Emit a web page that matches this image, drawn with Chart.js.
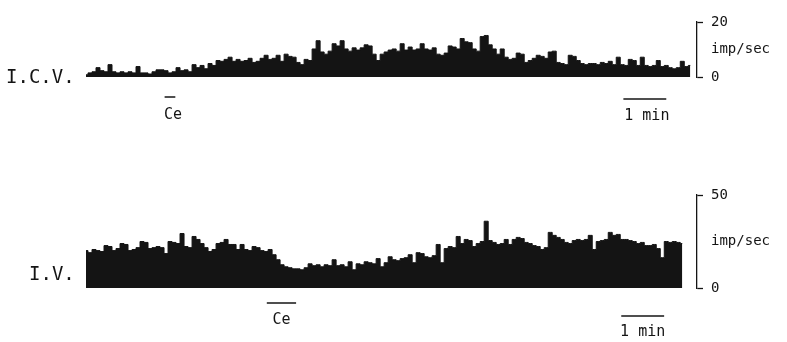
<!DOCTYPE html>
<html>
<head>
<meta charset="utf-8">
<script src="https://cdn.jsdelivr.net/npm/chart.js@4.4.0/dist/chart.umd.min.js"></script>
<style>
  html, body { margin: 0; padding: 0; background: #fff; }
  body { width: 787px; height: 342px; position: relative; overflow: hidden; }
  .panel { position: absolute; left: 0; width: 787px; }
  #top-wrap { top: 0; height: 145px; }
  #bot-wrap { top: 145px; height: 197px; }
</style>
</head>
<body>
<div class="panel" id="top-wrap"><canvas id="icv" width="787" height="145"></canvas></div>
<div class="panel" id="bot-wrap"><canvas id="iv" width="787" height="197"></canvas></div>
<script>
// RATEMETER DATA (imp/sec), one sample every SEC_PER_SAMPLE seconds
const SEC_PER_SAMPLE = 5.6;
const X_MAX = 855; // seconds shown across the plot width

// I.C.V. (intracerebroventricular) trace
const icvRate = [
  0.8, 1.5, 1.9, 3.4, 2.3, 1.9, 4.5, 1.9, 1.5, 1.9, 1.5, 1.9, 1.5, 3.8, 1.5, 1.5,
  1.1, 1.9, 2.6, 2.6, 2.3, 1.5, 1.9, 3.4, 2.3, 2.6, 1.9, 4.5, 3.4, 4.2, 3.0, 4.9,
  4.2, 6.0, 5.7, 6.4, 7.2, 5.7, 6.4, 5.7, 6.0, 6.8, 5.3, 5.7, 6.8, 7.9, 6.4, 6.8,
  7.9, 5.7, 8.3, 7.5, 7.2, 5.3, 4.5, 6.4, 6.0, 10.2, 13.2, 9.1, 8.3, 9.4, 12.1, 11.3,
  13.2, 10.2, 9.4, 10.6, 9.8, 10.6, 11.7, 11.3, 8.3, 6.0, 8.3, 9.1, 9.8, 10.2, 9.4, 12.1,
  9.8, 10.9, 9.8, 10.2, 12.1, 10.2, 9.8, 10.6, 8.3, 7.9, 8.7, 11.3, 10.9, 10.2, 14.0, 12.8,
  12.5, 10.2, 9.4, 14.7, 15.1, 11.7, 10.2, 8.3, 10.2, 7.2, 6.4, 6.8, 8.7, 8.3, 5.3, 6.0,
  6.8, 7.9, 7.5, 6.8, 9.1, 9.4, 5.3, 4.9, 4.5, 7.9, 7.5, 6.0, 4.9, 4.5, 4.9, 4.9,
  4.5, 5.3, 4.9, 5.7, 4.5, 7.2, 4.5, 4.2, 6.4, 6.0, 4.2, 7.2, 4.2, 3.8, 4.2, 6.0,
  3.8, 4.2, 3.4, 3.0, 3.4, 5.7, 3.8, 4.2
];

// I.V. (intravenous) trace
const ivRate = [
  20.1, 19.0, 20.7, 20.1, 19.6, 22.8, 22.3, 20.1, 21.2, 23.9, 23.4, 20.1, 20.7, 21.7, 25.0, 24.5,
  21.2, 21.7, 22.3, 21.7, 18.5, 25.0, 24.5, 23.9, 29.3, 22.3, 21.7, 27.7, 26.1, 23.9, 21.7, 19.6,
  20.7, 23.9, 24.5, 26.1, 23.4, 23.4, 20.7, 23.4, 20.7, 20.1, 22.3, 21.7, 20.1, 19.6, 20.7, 17.9,
  15.2, 12.5, 11.4, 10.9, 10.3, 10.3, 9.8, 10.9, 13.0, 12.0, 12.5, 11.4, 12.5, 12.0, 15.2, 12.0,
  12.5, 11.4, 14.1, 9.8, 13.0, 12.5, 14.1, 13.6, 13.0, 15.8, 11.4, 13.6, 16.8, 15.2, 14.7, 15.8,
  16.3, 17.9, 13.6, 19.0, 18.5, 16.8, 16.3, 17.4, 23.4, 13.6, 21.2, 22.3, 21.7, 27.7, 23.9, 26.1,
  25.5, 22.3, 23.9, 25.0, 35.9, 25.5, 24.5, 23.4, 23.9, 26.1, 23.4, 26.1, 27.2, 26.6, 24.5, 23.9,
  22.8, 22.3, 20.7, 21.7, 29.9, 28.3, 27.2, 26.1, 24.5, 23.9, 25.5, 26.1, 25.5, 26.1, 28.3, 20.7,
  25.0, 25.5, 26.1, 29.9, 28.3, 28.8, 26.1, 26.1, 25.5, 25.0, 23.9, 24.5, 22.8, 22.8, 23.4, 21.2,
  16.3, 25.0, 24.5, 25.0, 24.5, 23.9
];

// calibration brackets: tick values and their labels
const icvTicks = [0, 10, 20];
const icvTickLabels = ['0', 'imp/sec', '20'];
const ivTicks = [0, 25, 50];
const ivTickLabels = ['0', 'imp/sec', '50'];

// event bars (seconds from trace start)
const ceICV = [110, 125];
const minICV = [752, 812];
const ceIV = [253, 294];
const minIV = [749, 809];

const INK = '#141414';
const MONO = '"DejaVu Sans Mono", "Liberation Mono", monospace';

// draws trace name + event bars with their captions
const marksPlugin = {
  id: 'marks',
  afterDraw(chart, args, opts) {
    const ctx = chart.ctx, xs = chart.scales.x;
    ctx.save();
    ctx.fillStyle = INK;
    ctx.strokeStyle = INK;
    ctx.textBaseline = 'middle';
    opts.bars.forEach(b => {
      const x0 = xs.getPixelForValue(b.range[0]);
      const x1 = xs.getPixelForValue(b.range[1]);
      ctx.lineWidth = 1.5;
      ctx.beginPath();
      ctx.moveTo(x0, b.y);
      ctx.lineTo(x1, b.y);
      ctx.stroke();
      ctx.font = '15px ' + MONO;
      ctx.textAlign = 'center';
      ctx.fillText(b.text, (x0 + x1) / 2 + (b.dx || 0), b.textY);
    });
    ctx.font = '19px ' + MONO;
    ctx.textAlign = 'left';
    ctx.fillText(opts.name, opts.nameX, opts.nameY);
    ctx.restore();
  }
};

function makeTrace(id, rate, yMax, ticks, tickLabels, pad, marks) {
  const mid = ticks[1];
  return new Chart(document.getElementById(id), {
    type: 'line',
    data: {
      datasets: [{
        data: rate.map((v, i) => ({ x: i * SEC_PER_SAMPLE, y: v })),
        borderColor: INK,
        backgroundColor: INK,
        borderWidth: 1,
        pointRadius: 0,
        stepped: 'middle',
        fill: 'origin'
      }]
    },
    options: {
      responsive: false,
      animation: false,
      layout: { padding: pad },
      plugins: { legend: { display: false }, tooltip: { enabled: false }, marks: marks },
      scales: {
        x: { type: 'linear', min: 0, max: X_MAX, display: false },
        y: {
          position: 'right',
          min: 0, max: yMax,
          afterBuildTicks: s => { s.ticks = ticks.map(v => ({ value: v })); },
          afterFit: s => { s.width = 90; },
          border: { display: true, color: INK, width: 1.3 },
          grid: {
            drawOnChartArea: false,
            drawTicks: true,
            tickLength: 6,
            tickWidth: 1.3,
            tickColor: c => (c.tick && c.tick.value === mid) ? 'rgba(0,0,0,0)' : INK
          },
          ticks: {
            color: INK,
            padding: 8,
            font: { family: MONO, size: 14 },
            callback: (v) => tickLabels[ticks.indexOf(v)]
          }
        }
      }
    },
    plugins: [marksPlugin]
  });
}

makeTrace('icv', icvRate, 20, icvTicks, icvTickLabels,
  { left: 86, right: 0, top: 22, bottom: 68 },
  {
    name: 'I.C.V.', nameX: 6, nameY: 78,
    bars: [
      { range: ceICV, y: 97, text: 'Ce', textY: 115, dx: 3 },
      { range: minICV, y: 99, text: '1 min', textY: 116, dx: 2 }
    ]
  });

makeTrace('iv', ivRate, 50, ivTicks, ivTickLabels,
  { left: 86, right: 0, top: 50, bottom: 54 },
  {
    name: 'I.V.', nameX: 29, nameY: 130,
    bars: [
      { range: ceIV, y: 158, text: 'Ce', textY: 175 },
      { range: minIV, y: 171, text: '1 min', textY: 187 }
    ]
  });
</script>
</body>
</html>
